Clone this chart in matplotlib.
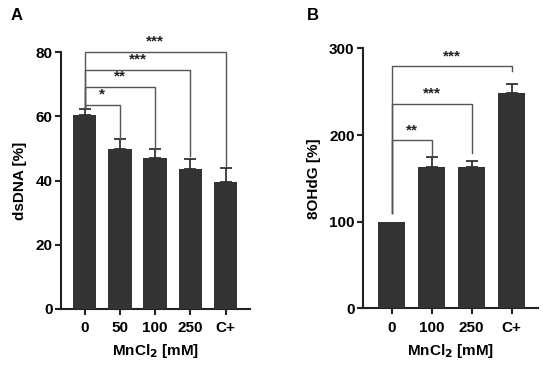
import matplotlib.pyplot as plt

plt.rcParams["font.family"] = ["Liberation Sans", "DejaVu Sans"]
plt.rcParams["font.weight"] = "bold"

# Panel A: dsDNA
a_labels = ["0", "50", "100", "250", "C+"]
a_means = [60.4, 49.9, 47.0, 43.5, 39.4]
a_sem = [2.0, 2.9, 2.7, 3.3, 4.6]
# (left bar, right bar, height, stars)
a_sig = [(0, 1, 63.6, "*"), (0, 2, 69.2, "**"), (0, 3, 74.6, "***"), (0, 4, 80.2, "***")]
a_drop = [52.6, 49.0, 47.5, 44.5]

# Panel B: 8OHdG
b_labels = ["0", "100", "250", "C+"]
b_means = [100, 163.3, 163.3, 249.1]
b_sem = [0, 11.6, 6.6, 9.3]
b_sig = [(0, 1, 194, "**"), (0, 2, 236, "***"), (0, 3, 279.5, "***")]
b_drop = [175.7, 179.5, 274.5]
b_start = 109.6

BAR = "#333333"
LINE = "#555555"

fig = plt.figure(figsize=(5.5, 3.7), dpi=100)
ax1 = fig.add_axes([0.111, 0.165, 0.3435, 0.694])
ax2 = fig.add_axes([0.66, 0.167, 0.318, 0.702])


def draw_panel(ax, labels, means, sem, sig, drops, start, ylim, yticks, ylabel):
    x = list(range(len(labels)))
    ax.bar(x, means, width=0.67, color=BAR, zorder=3)
    # only bars with an error get a whisker
    ex = [i for i in x if sem[i] > 0]
    ax.errorbar(ex, [means[i] for i in ex], yerr=[[0] * len(ex), [sem[i] for i in ex]],
                fmt="none", ecolor="#222222", elinewidth=1.2, capsize=4,
                capthick=1.2, zorder=2)
    for (i, j, h, stars), d in zip(sig, drops):
        ax.plot([i, i, j, j], [start, h, h, d], color=LINE, lw=1.0,
                clip_on=False, zorder=4)
        ax.text((i + j) / 2, h + ylim[1] * 0.012, stars, ha="center", va="bottom",
                fontsize=11, fontweight="bold", color="#222222", clip_on=False)
    ax.set_ylim(*ylim)
    ax.set_yticks(yticks)
    ax.set_xticks(x)
    ax.set_xticklabels(labels)
    ax.set_ylabel(ylabel, fontsize=11, fontweight="bold", labelpad=6)
    ax.set_xlabel("MnCl$_\\mathbf{2}$ [mM]", fontsize=11, fontweight="bold", labelpad=5)
    for s in ["top", "right"]:
        ax.spines[s].set_visible(False)
    for s in ["left", "bottom"]:
        ax.spines[s].set_linewidth(1.5)
        ax.spines[s].set_color("#222222")
    ax.tick_params(axis="both", labelsize=11, width=1.5, length=4, color="#222222")
    ax.tick_params(axis="x", pad=5)
    ax.tick_params(axis="y", pad=2)


draw_panel(ax1, a_labels, a_means, a_sem, a_sig, a_drop, 62.6,
           (0, 80), [0, 20, 40, 60, 80], "dsDNA [%]")
ax1.set_xlim(-0.67, 4.69)

draw_panel(ax2, b_labels, b_means, b_sem, b_sig, b_drop, b_start,
           (0, 300), [0, 100, 200, 300], "8OHdG [%]")
ax2.set_xlim(-0.72, 3.66)

fig.text(0.02, 0.957, "A", fontsize=12, fontweight="bold", va="center")
fig.text(0.558, 0.957, "B", fontsize=12, fontweight="bold", va="center")

fig.savefig("out.png", dpi=100)
